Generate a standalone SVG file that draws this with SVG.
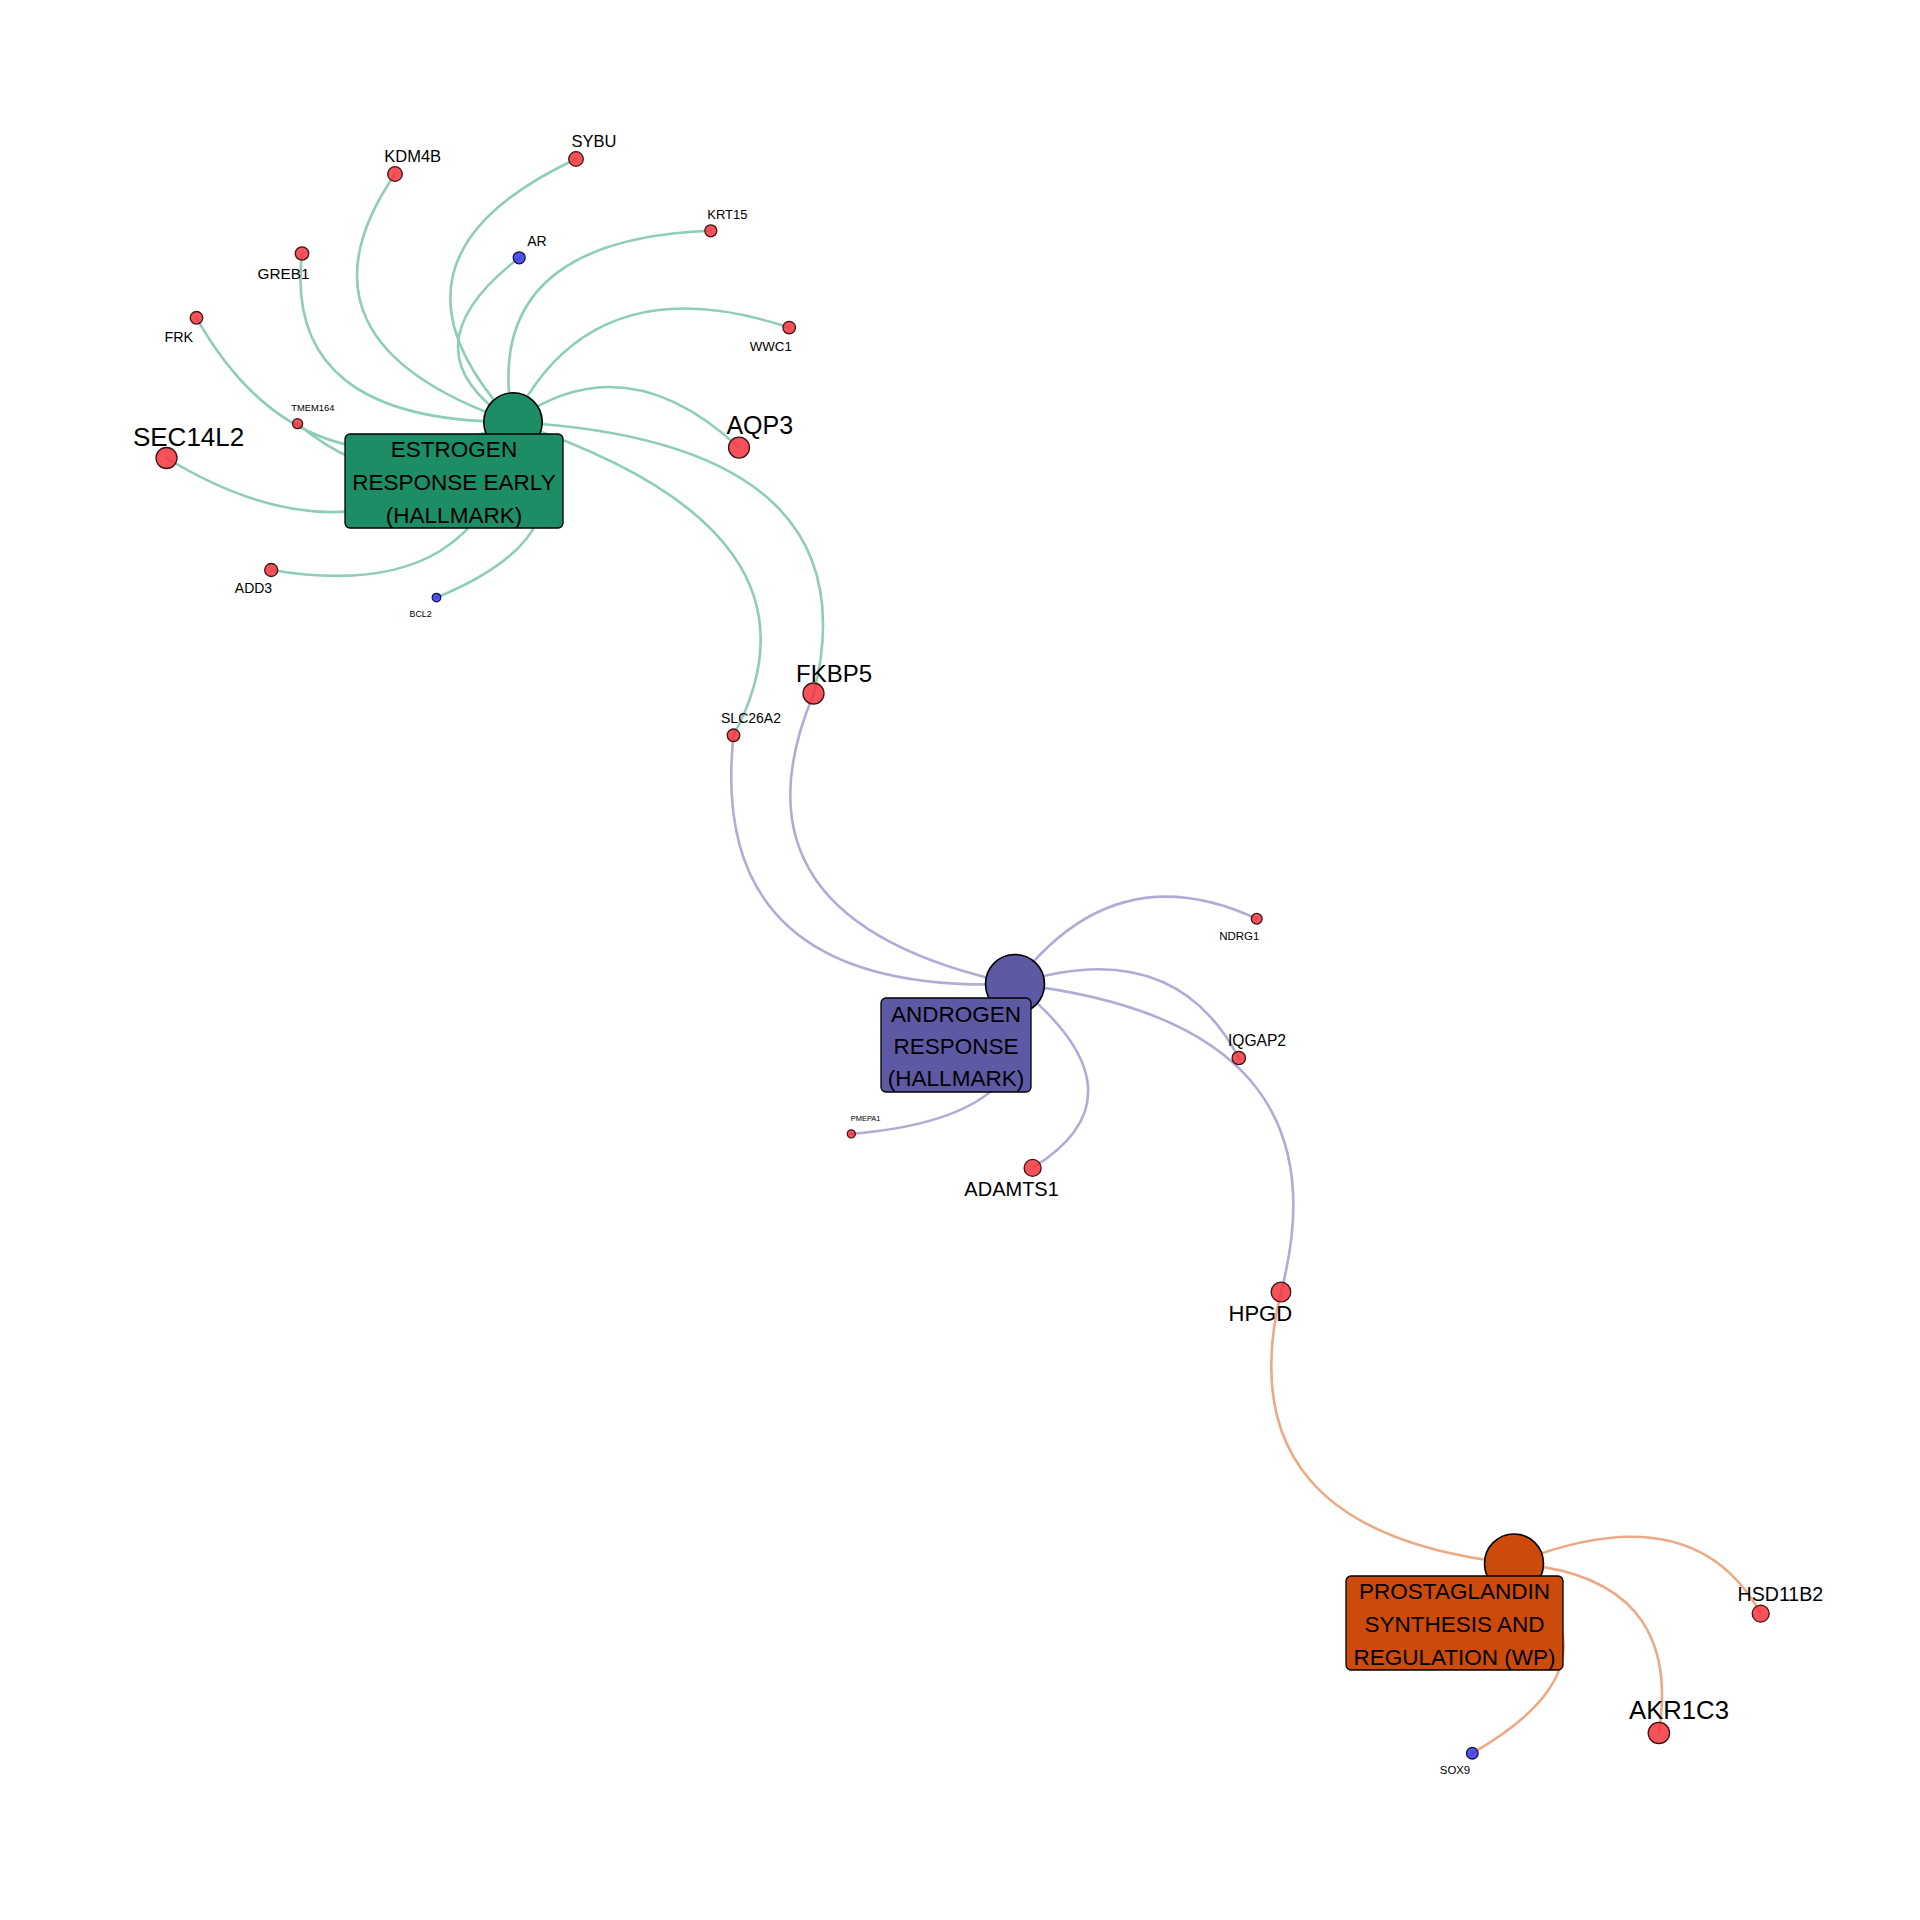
<svg xmlns="http://www.w3.org/2000/svg" width="1920" height="1920" viewBox="0 0 1920 1920">
<style>
text{font-family:"Liberation Sans",Arial,sans-serif;fill:#000;text-anchor:middle}
.e{fill:none;stroke-width:2.6;stroke-linecap:round}
.eg{stroke:#8ecdb6}
.ep{stroke:#b0acd6}
.eo{stroke:#eca985}
.hub{stroke:#000;stroke-width:1.6}
.box{stroke:#000;stroke-width:1.3}
.up{fill:#f5343c;fill-opacity:0.85;stroke:#3a1414;stroke-width:1.3}
.dn{fill:#3434f0;fill-opacity:0.85;stroke:#141440;stroke-width:1.3}
.bl{font-size:22.5px}
</style>
<rect width="1920" height="1920" fill="#fff"/>
<g id="connectors">
<path class="e eg" d="M513,422 Q280,342 395,174"/>
<path class="e eg" d="M513,422 Q361.5,259.5 576,159"/>
<path class="e eg" d="M513,422 Q282.5,422 302,253.5"/>
<path class="e eg" d="M513,422 Q305,510 196.5,317.8"/>
<path class="e eg" d="M513,422 Q406,515 297.6,423.7"/>
<path class="e eg" d="M513,422 Q370,582 166.5,458"/>
<path class="e eg" d="M513,422 Q488,606 271.2,570"/>
<path class="e eg" d="M513,422 Q601,530 436.5,597.6"/>
<path class="e eg" d="M513,422 Q400,350 519.2,257.8"/>
<path class="e eg" d="M513,422 Q478,239.6 710.8,230.8"/>
<path class="e eg" d="M513,422 Q592,262 789.2,327.6"/>
<path class="e eg" d="M513,422 Q624,341 739,447.6"/>
<path class="e eg" d="M513,422 Q876.6,442 813.8,693.75"/>
<path class="e eg" d="M513,422 Q842.75,531.35 733.5,735.3"/>
<path class="e ep" d="M1015,984 Q705.75,996.35 733.5,735.3"/>
<path class="e ep" d="M1015,984 Q717.5,920.9 813.8,693.75"/>
<path class="e ep" d="M1015,984 Q1114,852.6 1256.7,918.75"/>
<path class="e ep" d="M1015,984 Q1173,933 1238.8,1058"/>
<path class="e ep" d="M1015,984 Q1352,1022 1281,1292"/>
<path class="e ep" d="M1015,984 Q1152,1094 1032.6,1167.9"/>
<path class="e ep" d="M1015,984 Q1056.75,1116.8 851.3,1133.9"/>
<path class="e eo" d="M1514,1563.5 Q1222.6,1532.25 1281,1292"/>
<path class="e eo" d="M1514,1563.5 Q1692.75,1491.45 1760.7,1613.6"/>
<path class="e eo" d="M1514,1563.5 Q1683.65,1575.75 1658.9,1733"/>
<path class="e eo" d="M1514,1563.5 Q1631,1661.65 1472.3,1753.2"/>
</g>
<g id="hub-estrogen">
<circle class="hub" cx="513" cy="422" r="29.2" fill="#1c8d64"/>
<rect class="box" x="345" y="434" width="218" height="94" rx="5" fill="#1c8d64"/>
<text class="bl" x="454" y="457">ESTROGEN</text>
<text class="bl" x="454" y="490">RESPONSE EARLY</text>
<text class="bl" x="454" y="523">(HALLMARK)</text>
</g>
<g id="hub-androgen">
<circle class="hub" cx="1015" cy="984" r="29.5" fill="#5e59a5"/>
<rect class="box" x="881" y="998" width="150" height="94" rx="5" fill="#5e59a5"/>
<text class="bl" x="956" y="1021.5">ANDROGEN</text>
<text class="bl" x="956" y="1053.5">RESPONSE</text>
<text class="bl" x="956" y="1086">(HALLMARK)</text>
</g>
<g id="hub-prostaglandin">
<circle class="hub" cx="1514" cy="1563.5" r="29.5" fill="#cc4b0a"/>
<rect class="box" x="1346" y="1576" width="217" height="94" rx="5" fill="#cc4b0a"/>
<text class="bl" x="1454.5" y="1599">PROSTAGLANDIN</text>
<text class="bl" x="1454.5" y="1632">SYNTHESIS AND</text>
<text class="bl" x="1454.5" y="1664.5">REGULATION (WP)</text>
</g>
<g id="node-KDM4B"><circle class="up" cx="395" cy="174" r="7.3"/><text x="412.7" y="162" font-size="16.5">KDM4B</text></g>
<g id="node-SYBU"><circle class="up" cx="576" cy="159" r="7.3"/><text x="594" y="147" font-size="16.5">SYBU</text></g>
<g id="node-KRT15"><circle class="up" cx="710.8" cy="230.8" r="6"/><text x="727.4" y="218.6" font-size="13">KRT15</text></g>
<g id="node-AR"><circle class="dn" cx="519.2" cy="257.8" r="6"/><text x="537" y="245.5" font-size="14">AR</text></g>
<g id="node-GREB1"><circle class="up" cx="302" cy="253.5" r="6.7"/><text x="283.5" y="278.6" font-size="15.3">GREB1</text></g>
<g id="node-FRK"><circle class="up" cx="196.5" cy="317.8" r="6.3"/><text x="178.8" y="341.6" font-size="14.4">FRK</text></g>
<g id="node-WWC1"><circle class="up" cx="789.2" cy="327.6" r="6.3"/><text x="770.8" y="350.8" font-size="13.3">WWC1</text></g>
<g id="node-TMEM164"><circle class="up" cx="297.6" cy="423.7" r="5"/><text x="312.9" y="411.4" font-size="9.4">TMEM164</text></g>
<g id="node-SEC14L2"><circle class="up" cx="166.5" cy="458" r="10.5"/><text x="188.6" y="445.7" font-size="26">SEC14L2</text></g>
<g id="node-AQP3"><circle class="up" cx="739" cy="447.6" r="10.5"/><text x="759.8" y="434" font-size="25">AQP3</text></g>
<g id="node-ADD3"><circle class="up" cx="271.2" cy="570" r="6.5"/><text x="253.5" y="592.7" font-size="14">ADD3</text></g>
<g id="node-BCL2"><circle class="dn" cx="436.5" cy="597.6" r="4.3"/><text x="420.6" y="616.5" font-size="8.8">BCL2</text></g>
<g id="node-FKBP5"><circle class="up" cx="813.5" cy="693.5" r="10.5"/><text x="834" y="681.5" font-size="24">FKBP5</text></g>
<g id="node-SLC26A2"><circle class="up" cx="733.5" cy="735.3" r="6.3"/><text x="751" y="722.6" font-size="14">SLC26A2</text></g>
<g id="node-NDRG1"><circle class="up" cx="1256.7" cy="918.75" r="5.4"/><text x="1239.3" y="940.2" font-size="11.5">NDRG1</text></g>
<g id="node-IQGAP2"><circle class="up" cx="1238.8" cy="1058" r="6.7"/><text x="1257" y="1045.5" font-size="15.6">IQGAP2</text></g>
<g id="node-PMEPA1"><circle class="up" cx="851.3" cy="1133.9" r="4"/><text x="865.6" y="1121" font-size="7.5">PMEPA1</text></g>
<g id="node-ADAMTS1"><circle class="up" cx="1032.6" cy="1167.9" r="8.5"/><text x="1011.6" y="1196.4" font-size="20">ADAMTS1</text></g>
<g id="node-HPGD"><circle class="up" cx="1281" cy="1292" r="9.8"/><text x="1260.3" y="1321.2" font-size="22">HPGD</text></g>
<g id="node-HSD11B2"><circle class="up" cx="1760.7" cy="1613.6" r="8.5"/><text x="1780.4" y="1600.6" font-size="19.6">HSD11B2</text></g>
<g id="node-AKR1C3"><circle class="up" cx="1658.9" cy="1733" r="10.7"/><text x="1679" y="1718.8" font-size="25.7">AKR1C3</text></g>
<g id="node-SOX9"><circle class="dn" cx="1472.3" cy="1753.2" r="5.8"/><text x="1455" y="1774.3" font-size="11.4">SOX9</text></g>
</svg>
